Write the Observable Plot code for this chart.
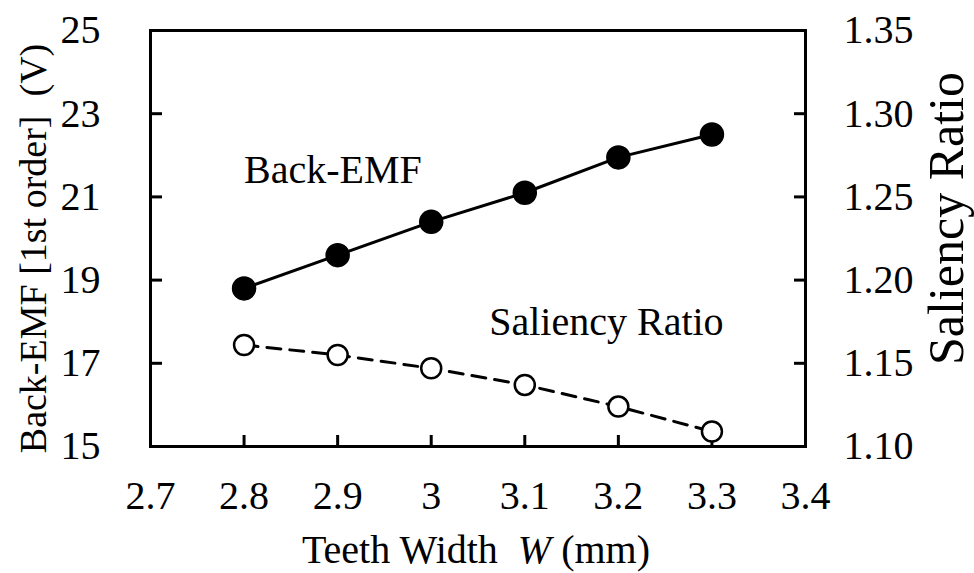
<!DOCTYPE html>
<html>
<head>
<meta charset="utf-8">
<script src="https://cdn.jsdelivr.net/npm/d3@7"></script>
<script src="https://cdn.jsdelivr.net/npm/@observablehq/plot@0.6"></script>
<style>
  html, body { margin: 0; padding: 0; background: #fff; }
  svg text { white-space: pre; font-family: "Liberation Serif", "Times New Roman", serif; }
</style>
</head>
<body>
<div id="chart"></div>
<script>
// Teeth width W (mm)
const widths = [2.8, 2.9, 3.0, 3.1, 3.2, 3.3];
// First-order back-EMF (V), left axis
const backEmf = [18.8, 19.6, 20.4, 21.1, 21.95, 22.5];
// Saliency ratio, right axis
const saliency = [1.161, 1.155, 1.147, 1.137, 1.124, 1.109];

const xTicks = [2.7, 2.8, 2.9, 3.0, 3.1, 3.2, 3.3, 3.4];
const emfTicks = [15, 17, 19, 21, 23, 25];
const ratioTicks = [1.10, 1.15, 1.20, 1.25, 1.30, 1.35];

const seriesLabels = [
  {text: "Back-EMF", x: 2.8, y: 21.65},
  {text: "Saliency Ratio", x: 3.062, y: 18.0}
];

const serif = "Liberation Serif";

// Saliency ratio shares the plot with the back-EMF scale
const ratioToEmf = d3.scaleLinear([1.10, 1.35], [15, 25]);

const emfData = widths.map((w, i) => ({w, v: backEmf[i]}));
const ratioData = widths.map((w, i) => ({w, v: ratioToEmf(saliency[i])}));

const chart = Plot.plot({
  width: 974,
  height: 573,
  marginLeft: 150,
  marginRight: 169,
  marginTop: 30,
  marginBottom: 127,
  style: {fontFamily: serif, fontSize: "40px", color: "#000", background: "#fff"},
  x: {domain: [2.7, 3.4], label: null},
  y: {domain: [15, 25], label: null},
  marks: [
    Plot.axisX(xTicks, {anchor: "bottom", tickSize: -11, tickPadding: 45, strokeWidth: 3,
      fontSize: 40, fontFamily: serif, tickFormat: d => String(+d.toFixed(1))}),
    Plot.axisY(emfTicks, {anchor: "left", tickSize: -12, tickPadding: 62, strokeWidth: 3,
      fontSize: 40, fontFamily: serif}),
    Plot.axisY(ratioTicks.map(ratioToEmf), {anchor: "right", tickSize: -12, tickPadding: 50, strokeWidth: 3,
      fontSize: 40, fontFamily: serif, tickFormat: d => ratioToEmf.invert(d).toFixed(2)}),
    Plot.frame({stroke: "#000", strokeWidth: 3}),
    Plot.line(emfData, {x: "w", y: "v", stroke: "#000", strokeWidth: 3}),
    Plot.line(ratioData, {x: "w", y: "v", stroke: "#000", strokeWidth: 3, strokeDasharray: "14,9"}),
    Plot.dot(emfData, {x: "w", y: "v", r: 11.5, fill: "#000", stroke: "#000"}),
    Plot.dot(ratioData, {x: "w", y: "v", r: 10, fill: "#fff", stroke: "#000", strokeWidth: 2.5}),
    Plot.text(seriesLabels, {x: "x", y: "y", text: "text", textAnchor: "start", lineAnchor: "middle",
      fontSize: 40, fontFamily: serif, fill: "#000"}),
    Plot.text(["Back-EMF [1st order]  (V)"], {frameAnchor: "left", dx: -117, dy: 10, rotate: -90,
      textAnchor: "middle", lineAnchor: "middle", fontSize: 38, fontFamily: serif, fill: "#000"}),
    Plot.text(["Saliency Ratio"], {frameAnchor: "right", dx: 141, dy: -20, rotate: -90,
      textAnchor: "middle", lineAnchor: "middle", fontSize: 50, fontFamily: serif, fill: "#000"}),
    Plot.text(["Teeth Width  W (mm)"], {frameAnchor: "bottom", dx: -2, dy: 104,
      textAnchor: "middle", lineAnchor: "middle", fontSize: 40, fontFamily: serif, fill: "#000", className: "xtitle"})
  ]
});

// Italicise the symbol W in the x-axis title
d3.select(chart).selectAll("g.xtitle text").each(function () {
  const t = d3.select(this);
  t.text(null);
  t.append("tspan").text("Teeth Width  ");
  t.append("tspan").attr("font-style", "italic").text("W");
  t.append("tspan").text(" (mm)");
});

document.getElementById("chart").appendChild(chart);
</script>
</body>
</html>
